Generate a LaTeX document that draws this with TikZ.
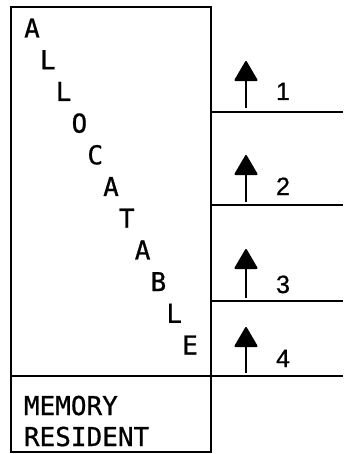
\documentclass[tikz,border=0pt]{standalone}
\usepackage{fontspec}
\newfontfamily\lettfont[FakeBold=0.8]{DejaVu Sans Mono}
\newfontfamily\digitfont[FakeBold=0.8]{Liberation Sans}
\usetikzlibrary{arrows.meta}
\begin{document}
\begin{tikzpicture}[x=1pt,y=-1pt, line width=1.9pt,
  region/.style={draw, minimum width=200pt, inner sep=0pt, outer sep=0pt},
  letter/.style={font=\lettfont\fontsize{26}{26}\selectfont, inner sep=0pt, anchor=base},
  num/.style={font=\digitfont\fontsize{25}{25}\selectfont, inner sep=0pt, anchor=base},
  up/.style={-{Triangle[width=24pt,length=21pt,round]}, line width=1.9pt}]
\useasboundingbox (0,0) rectangle (343,454);
\node[region, minimum height=369pt, anchor=north west] (alloc) at (11,7) {};
\node[region, minimum height=76pt, anchor=north west] (res) at (11,376) {};
% right-hand boundary lines
\coordinate (r1) at (343,112);
\coordinate (r2) at (343,205);
\coordinate (r3) at (343,301);
\coordinate (r4) at (343,376);
\draw (alloc.east |- r1) -- (r1);
\draw (alloc.east |- r2) -- (r2);
\draw (alloc.east |- r3) -- (r3);
\draw (alloc.south east) -- (r4);
% arrows
\coordinate (b1) at (246,108); \coordinate (t1) at (246,61);
\coordinate (b2) at (246,202); \coordinate (t2) at (246,155);
\coordinate (b3) at (246,298); \coordinate (t3) at (246,249);
\coordinate (b4) at (246,373); \coordinate (t4) at (246,327);
\draw[up] (b1) -- (t1);
\draw[up] (b2) -- (t2);
\draw[up] (b3) -- (t3);
\draw[up] (b4) -- (t4);
% numbers
\node[num] (n1) at (283,100) {1};
\node[num] (n2) at (283,195) {2};
\node[num] (n3) at (283,293) {3};
\node[num] (n4) at (283,367) {4};
% diagonal word
\foreach \c [count=\i from 0] in {A,L,L,O,C,A,T,A,B,L,E}
  \node[letter] (l\i) at ({32+15.8*\i},{37.5+31.7*\i}) {\c};
\node[letter, anchor=base west] (mem) at (23,415) {MEMORY};
\node[letter, anchor=base west] (resid) at (23,446) {RESIDENT};
\end{tikzpicture}
\end{document}
